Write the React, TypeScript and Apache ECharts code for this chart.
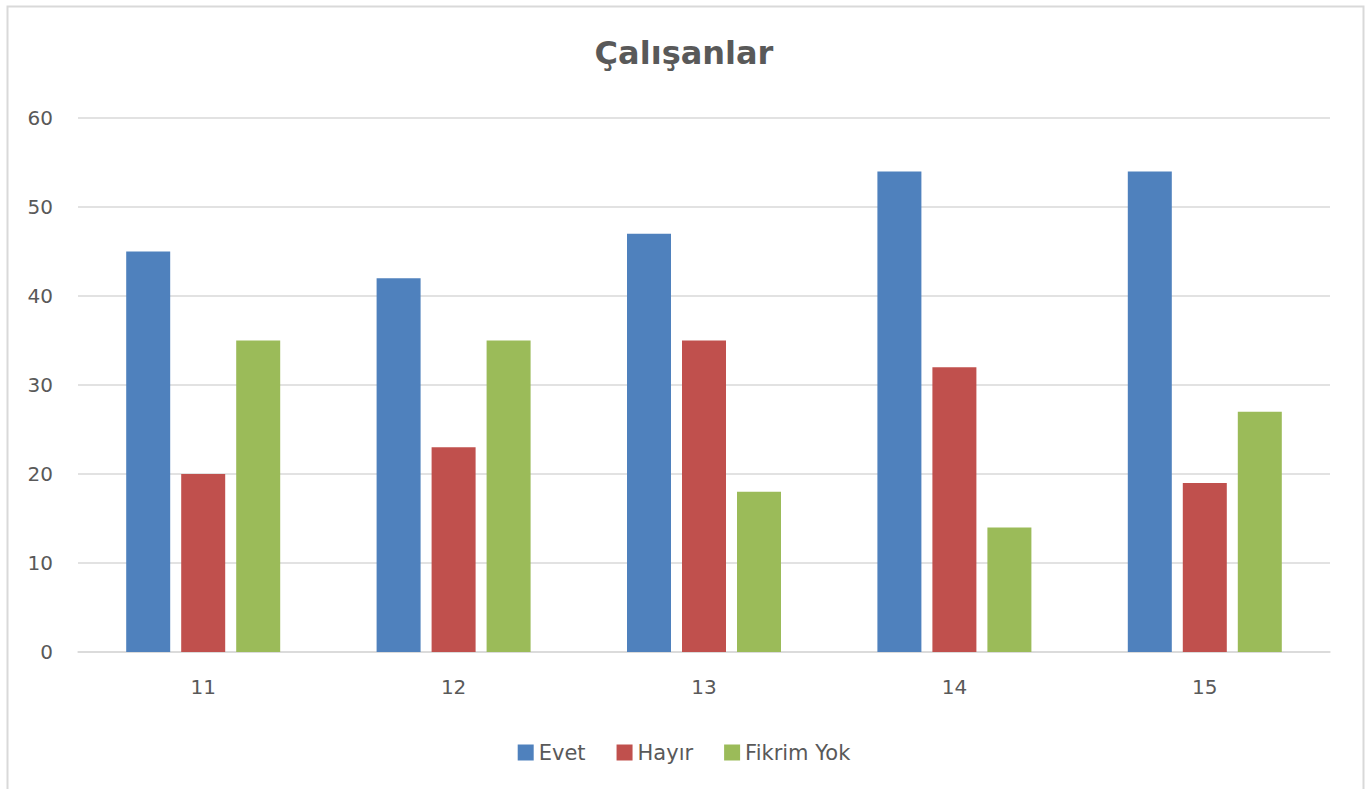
import React, { useEffect, useRef } from "react";
import * as echarts from "echarts";

const categories = ["11", "12", "13", "14", "15"];
const evet = [45, 42, 47, 54, 54];
const hayir = [20, 23, 35, 32, 19];
const fikrimYok = [35, 35, 18, 14, 27];
const seriesNames = ["Evet", "Hayır", "Fikrim Yok"];
const colors = ["#4f81bd", "#c0504d", "#9bbb59"];

export default function App() {
  const ref = useRef<HTMLDivElement>(null);
  useEffect(() => {
    if (!ref.current) return;
    const chart = echarts.init(ref.current, null, { renderer: "svg" });
    const font = "'DejaVu Sans', sans-serif";
    const dataSets = [evet, hayir, fikrimYok];
    chart.setOption({
      animation: false,
      backgroundColor: "#ffffff",
      title: {
        text: "Çalışanlar",
        left: "center",
        top: 32,
        textStyle: { fontFamily: font, fontSize: 32, fontWeight: "bold", color: "#595959" },
      },
      legend: {
        top: 737,
        left: "center",
        itemWidth: 16,
        itemHeight: 16,
        itemGap: 31,
        icon: "rect",
        textStyle: { fontFamily: font, fontSize: 21, color: "#595959" },
        data: seriesNames,
      },
      grid: { left: 78, right: 38, top: 118, bottom: 137, containLabel: false },
      xAxis: {
        type: "category",
        data: categories,
        axisLine: { show: true, lineStyle: { color: "#d9d9d9", width: 1.5 } },
        axisTick: { show: false },
        axisLabel: { fontFamily: font, fontSize: 20, color: "#595959", margin: 25 },
      },
      yAxis: {
        type: "value",
        min: 0,
        max: 60,
        interval: 10,
        axisLine: { show: false },
        axisTick: { show: false },
        splitLine: { lineStyle: { color: "#d9d9d9", width: 1.5 } },
        axisLabel: { fontFamily: font, fontSize: 20, color: "#595959", margin: 25 },
      },
      graphic: [
        {
          type: "rect",
          left: 5,
          top: 4,
          shape: { width: 1356, height: 800 },
          style: { fill: "none", stroke: "#d9d9d9", lineWidth: 2 },
          silent: true,
        },
      ],
      series: seriesNames.map((name, i) => ({
        name,
        type: "bar",
        data: dataSets[i],
        barWidth: 44,
        barGap: "25%",
        itemStyle: { color: colors[i] },
      })),
    });
    return () => chart.dispose();
  }, []);
  return (
    <div
      ref={ref}
      style={{ position: "fixed", left: 0, top: 0, width: 1368, height: 789 }}
    />
  );
}
